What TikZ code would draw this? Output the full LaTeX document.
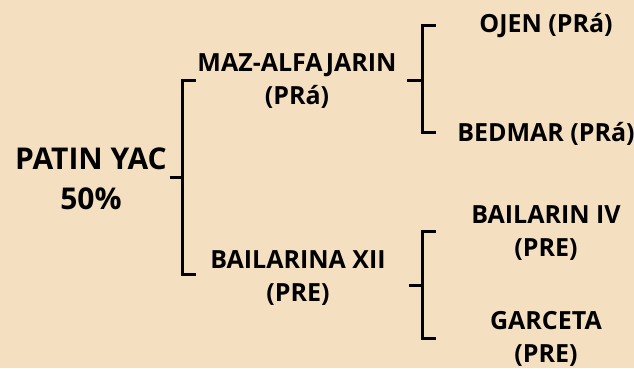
\documentclass[tikz,border=0pt]{standalone}
\usepackage{fontspec}
\setmainfont{Open Sans}
\definecolor{paper}{HTML}{F5DFC1}

\begin{document}
\begin{tikzpicture}[x=1pt,y=-1pt,
  lbl/.style={align=center,inner sep=2pt,font=\bfseries\fontsize{25}{33}\selectfont},
  rootlbl/.style={align=center,inner sep=3pt,font=\bfseries\fontsize{30}{40}\selectfont},
  bracket/.style={draw=black,line width=3pt}]
\fill[paper] (0,0) rectangle (634,368);
\useasboundingbox (0,0) rectangle (634,368);

\node[rootlbl] (patin) at (91,179) {PATIN YAC\\50\%};
\node[lbl] (maz) at (297,81) {MAZ-ALFAJARIN\\(PRá)};
\node[lbl] (bailarina) at (298,278) {BAILARINA XII\\(PRE)};
\node[lbl] (ojen) at (546,26) {OJEN (PRá)};
\node[lbl] (bedmar) at (546,134) {BEDMAR (PRá)};
\node[lbl] (bailariniv) at (546,233) {BAILARIN IV\\(PRE)};
\node[lbl] (garceta) at (546,339) {GARCETA\\(PRE)};

\coordinate (j0) at (182,177);
\coordinate (t0) at (196,80);
\coordinate (b0) at (196,274);
\coordinate (j1) at (422,80);
\coordinate (t1) at (436,25);
\coordinate (b1) at (436,132);
\coordinate (j2) at (422,285);
\coordinate (t2) at (436,231);
\coordinate (b2) at (436,338);

\path [bracket] (patin.east |- j0) -- (j0);
\path [bracket] (t0) -| (j0) |- (b0);
\path [bracket] ([xshift=8pt]maz.east |- j1) -- (j1);
\path [bracket] (t1) -| (j1) |- (b1);
\path [bracket] ([xshift=21pt]bailarina.east |- j2) -- (j2);
\path [bracket] (t2) -| (j2) |- (b2);
\end{tikzpicture}
\end{document}
